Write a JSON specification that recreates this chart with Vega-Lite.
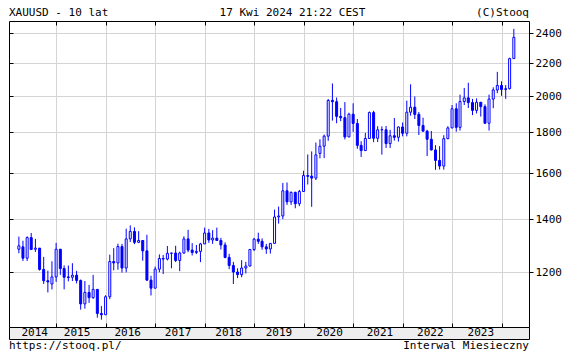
{
  "$schema": "https://vega.github.io/schema/vega-lite/v6.json",
  "padding": {"left": 8, "top": 4, "right": 0, "bottom": 0},
  "spacing": 0,
  "bounds": "flush",
  "config": {
    "view": {"stroke": null},
    "font": "DejaVu Sans Mono",
    "text": {"font": "DejaVu Sans Mono", "fontSize": 11, "color": "#000000"}
  },
  "datasets": {
    "gold": [
      {"d":"2014-04-01","o":1283,"h":1331,"l":1268,"c":1296},
      {"d":"2014-05-01","o":1292,"h":1315,"l":1240,"c":1250},
      {"d":"2014-06-01","o":1250,"h":1332,"l":1240,"c":1327},
      {"d":"2014-07-01","o":1327,"h":1345,"l":1281,"c":1282},
      {"d":"2014-08-01","o":1283,"h":1322,"l":1273,"c":1287},
      {"d":"2014-09-01","o":1287,"h":1288,"l":1206,"c":1210},
      {"d":"2014-10-01","o":1210,"h":1255,"l":1160,"c":1171},
      {"d":"2014-11-01","o":1171,"h":1206,"l":1132,"c":1167},
      {"d":"2014-12-01","o":1160,"h":1239,"l":1142,"c":1184},
      {"d":"2015-01-01","o":1184,"h":1307,"l":1167,"c":1283},
      {"d":"2015-02-01","o":1283,"h":1284,"l":1191,"c":1213},
      {"d":"2015-03-01","o":1213,"h":1224,"l":1142,"c":1183},
      {"d":"2015-04-01","o":1184,"h":1224,"l":1169,"c":1182},
      {"d":"2015-05-01","o":1183,"h":1232,"l":1170,"c":1190},
      {"d":"2015-06-01","o":1190,"h":1205,"l":1162,"c":1172},
      {"d":"2015-07-01","o":1172,"h":1175,"l":1077,"c":1095},
      {"d":"2015-08-01","o":1095,"h":1170,"l":1080,"c":1132},
      {"d":"2015-09-01","o":1132,"h":1157,"l":1098,"c":1115},
      {"d":"2015-10-01","o":1115,"h":1191,"l":1111,"c":1142},
      {"d":"2015-11-01","o":1142,"h":1142,"l":1052,"c":1065},
      {"d":"2015-12-01","o":1065,"h":1088,"l":1046,"c":1061},
      {"d":"2016-01-01","o":1061,"h":1123,"l":1061,"c":1118},
      {"d":"2016-02-01","o":1118,"h":1263,"l":1110,"c":1238},
      {"d":"2016-03-01","o":1238,"h":1287,"l":1207,"c":1233},
      {"d":"2016-04-01","o":1233,"h":1304,"l":1209,"c":1293},
      {"d":"2016-05-01","o":1293,"h":1303,"l":1199,"c":1215},
      {"d":"2016-06-01","o":1215,"h":1362,"l":1200,"c":1322},
      {"d":"2016-07-01","o":1322,"h":1375,"l":1310,"c":1351},
      {"d":"2016-08-01","o":1351,"h":1367,"l":1302,"c":1309},
      {"d":"2016-09-01","o":1309,"h":1352,"l":1306,"c":1316},
      {"d":"2016-10-01","o":1316,"h":1317,"l":1241,"c":1277},
      {"d":"2016-11-01","o":1277,"h":1338,"l":1171,"c":1173},
      {"d":"2016-12-01","o":1173,"h":1188,"l":1122,"c":1146},
      {"d":"2017-01-01","o":1146,"h":1220,"l":1146,"c":1211},
      {"d":"2017-02-01","o":1211,"h":1264,"l":1200,"c":1249},
      {"d":"2017-03-01","o":1249,"h":1262,"l":1194,"c":1247},
      {"d":"2017-04-01","o":1247,"h":1295,"l":1242,"c":1268},
      {"d":"2017-05-01","o":1268,"h":1270,"l":1214,"c":1269},
      {"d":"2017-06-01","o":1269,"h":1296,"l":1236,"c":1242},
      {"d":"2017-07-01","o":1242,"h":1274,"l":1204,"c":1269},
      {"d":"2017-08-01","o":1269,"h":1332,"l":1267,"c":1322},
      {"d":"2017-09-01","o":1322,"h":1357,"l":1272,"c":1280},
      {"d":"2017-10-01","o":1280,"h":1306,"l":1260,"c":1271},
      {"d":"2017-11-01","o":1271,"h":1299,"l":1265,"c":1275},
      {"d":"2017-12-01","o":1275,"h":1307,"l":1236,"c":1303},
      {"d":"2018-01-01","o":1303,"h":1366,"l":1303,"c":1345},
      {"d":"2018-02-01","o":1345,"h":1361,"l":1307,"c":1318},
      {"d":"2018-03-01","o":1318,"h":1356,"l":1303,"c":1325},
      {"d":"2018-04-01","o":1325,"h":1366,"l":1315,"c":1316},
      {"d":"2018-05-01","o":1316,"h":1326,"l":1282,"c":1299},
      {"d":"2018-06-01","o":1299,"h":1309,"l":1250,"c":1253},
      {"d":"2018-07-01","o":1253,"h":1266,"l":1211,"c":1224},
      {"d":"2018-08-01","o":1224,"h":1237,"l":1160,"c":1201},
      {"d":"2018-09-01","o":1201,"h":1214,"l":1180,"c":1192},
      {"d":"2018-10-01","o":1192,"h":1243,"l":1183,"c":1215},
      {"d":"2018-11-01","o":1215,"h":1237,"l":1196,"c":1222},
      {"d":"2018-12-01","o":1222,"h":1284,"l":1221,"c":1282},
      {"d":"2019-01-01","o":1282,"h":1326,"l":1276,"c":1321},
      {"d":"2019-02-01","o":1321,"h":1346,"l":1303,"c":1313},
      {"d":"2019-03-01","o":1313,"h":1324,"l":1281,"c":1292},
      {"d":"2019-04-01","o":1292,"h":1303,"l":1266,"c":1284},
      {"d":"2019-05-01","o":1284,"h":1306,"l":1267,"c":1305},
      {"d":"2019-06-01","o":1305,"h":1439,"l":1305,"c":1409},
      {"d":"2019-07-01","o":1409,"h":1452,"l":1382,"c":1413},
      {"d":"2019-08-01","o":1413,"h":1555,"l":1400,"c":1520},
      {"d":"2019-09-01","o":1520,"h":1557,"l":1459,"c":1472},
      {"d":"2019-10-01","o":1472,"h":1517,"l":1459,"c":1513},
      {"d":"2019-11-01","o":1513,"h":1516,"l":1445,"c":1464},
      {"d":"2019-12-01","o":1464,"h":1524,"l":1454,"c":1517},
      {"d":"2020-01-01","o":1517,"h":1611,"l":1517,"c":1589},
      {"d":"2020-02-01","o":1589,"h":1689,"l":1548,"c":1585},
      {"d":"2020-03-01","o":1586,"h":1704,"l":1451,"c":1577},
      {"d":"2020-04-01","o":1577,"h":1748,"l":1568,"c":1687},
      {"d":"2020-05-01","o":1694,"h":1765,"l":1670,"c":1730},
      {"d":"2020-06-01","o":1730,"h":1789,"l":1671,"c":1781},
      {"d":"2020-07-01","o":1781,"h":1984,"l":1757,"c":1975},
      {"d":"2020-08-01","o":1976,"h":2075,"l":1863,"c":1968},
      {"d":"2020-09-01","o":1968,"h":1992,"l":1849,"c":1886},
      {"d":"2020-10-01","o":1886,"h":1933,"l":1860,"c":1879},
      {"d":"2020-11-01","o":1879,"h":1966,"l":1764,"c":1777},
      {"d":"2020-12-01","o":1777,"h":1906,"l":1775,"c":1898},
      {"d":"2021-01-01","o":1898,"h":1959,"l":1803,"c":1848},
      {"d":"2021-02-01","o":1848,"h":1872,"l":1717,"c":1734},
      {"d":"2021-03-01","o":1734,"h":1755,"l":1677,"c":1708},
      {"d":"2021-04-01","o":1708,"h":1798,"l":1706,"c":1769},
      {"d":"2021-05-01","o":1769,"h":1913,"l":1766,"c":1907},
      {"d":"2021-06-01","o":1907,"h":1917,"l":1750,"c":1770},
      {"d":"2021-07-01","o":1770,"h":1833,"l":1751,"c":1814},
      {"d":"2021-08-01","o":1814,"h":1832,"l":1688,"c":1815},
      {"d":"2021-09-01","o":1814,"h":1834,"l":1721,"c":1743},
      {"d":"2021-10-01","o":1743,"h":1814,"l":1721,"c":1783},
      {"d":"2021-11-01","o":1783,"h":1877,"l":1758,"c":1775},
      {"d":"2021-12-01","o":1775,"h":1831,"l":1753,"c":1829},
      {"d":"2022-01-01","o":1829,"h":1853,"l":1780,"c":1796},
      {"d":"2022-02-01","o":1796,"h":1974,"l":1780,"c":1909},
      {"d":"2022-03-01","o":1909,"h":2070,"l":1890,"c":1937},
      {"d":"2022-04-01","o":1937,"h":1998,"l":1872,"c":1897},
      {"d":"2022-05-01","o":1897,"h":1910,"l":1787,"c":1837},
      {"d":"2022-06-01","o":1837,"h":1879,"l":1805,"c":1807},
      {"d":"2022-07-01","o":1807,"h":1814,"l":1681,"c":1765},
      {"d":"2022-08-01","o":1765,"h":1808,"l":1709,"c":1711},
      {"d":"2022-09-01","o":1711,"h":1735,"l":1615,"c":1660},
      {"d":"2022-10-01","o":1660,"h":1730,"l":1617,"c":1633},
      {"d":"2022-11-01","o":1633,"h":1786,"l":1616,"c":1768},
      {"d":"2022-12-01","o":1768,"h":1833,"l":1765,"c":1824},
      {"d":"2023-01-01","o":1824,"h":1949,"l":1823,"c":1928},
      {"d":"2023-02-01","o":1928,"h":1959,"l":1804,"c":1827},
      {"d":"2023-03-01","o":1827,"h":2009,"l":1810,"c":1969},
      {"d":"2023-04-01","o":1969,"h":2048,"l":1949,"c":1990},
      {"d":"2023-05-01","o":1990,"h":2079,"l":1932,"c":1963},
      {"d":"2023-06-01","o":1963,"h":1984,"l":1893,"c":1919},
      {"d":"2023-07-01","o":1919,"h":1987,"l":1902,"c":1965},
      {"d":"2023-08-01","o":1965,"h":1966,"l":1885,"c":1940},
      {"d":"2023-09-01","o":1940,"h":1953,"l":1846,"c":1849},
      {"d":"2023-10-01","o":1849,"h":2009,"l":1810,"c":1983},
      {"d":"2023-11-01","o":1983,"h":2052,"l":1931,"c":2036},
      {"d":"2023-12-01","o":2036,"h":2146,"l":2017,"c":2063},
      {"d":"2024-01-01","o":2063,"h":2088,"l":2002,"c":2039},
      {"d":"2024-02-01","o":2039,"h":2065,"l":1984,"c":2044},
      {"d":"2024-03-01","o":2044,"h":2236,"l":2039,"c":2230},
      {"d":"2024-04-01","o":2230,"h":2431,"l":2228,"c":2372}
    ],
    "years": [
      {"y":"2014","m":"2014-08-29"},
      {"y":"2015","m":"2015-07-02"},
      {"y":"2016","m":"2016-07-02"},
      {"y":"2017","m":"2017-07-02"},
      {"y":"2018","m":"2018-07-02"},
      {"y":"2019","m":"2019-07-02"},
      {"y":"2020","m":"2020-07-02"},
      {"y":"2021","m":"2021-07-02"},
      {"y":"2022","m":"2022-07-02"},
      {"y":"2023","m":"2023-07-02"}
    ]
  },
  "vconcat": [
    {
      "width": 520,
      "height": 17,
      "data": {"values": [{}]},
      "layer": [
        {"mark": {"type": "text", "text": "XAUUSD - 10 lat", "align": "left", "baseline": "middle"},
         "encoding": {"x": {"datum": 0, "type": "quantitative", "scale": {"domain": [0, 1]}, "axis": null}}},
        {"mark": {"type": "text", "text": "17 Kwi 2024 21:22 CEST", "align": "center", "baseline": "middle"},
         "encoding": {"x": {"datum": 0.545, "type": "quantitative", "axis": null}}},
        {"mark": {"type": "text", "text": "(C)Stooq", "align": "right", "baseline": "middle"},
         "encoding": {"x": {"datum": 1, "type": "quantitative", "axis": null}}}
      ]
    },
    {
      "width": 520,
      "height": 306,
      "data": {"name": "gold"},
      "layer": [
        {
          "mark": {"type": "rule", "color": "#0000ff", "strokeWidth": 1},
          "encoding": {
            "x": {"field": "d", "type": "temporal",
              "scale": {"type": "utc", "domain": [{"year": 2014, "month": 2, "date": 24, "utc": true}, {"year": 2024, "month": 6, "date": 15, "utc": true}]},
              "axis": {"orient": "bottom", "title": null, "labels": false, "tickSize": -4, "tickColor": "#000000", "domainColor": "#000000", "grid": true, "gridColor": "#d4d4d4",
                "values": [{"year": 2015, "month": 1, "date": 1, "utc": true}, {"year": 2016, "month": 1, "date": 1, "utc": true}, {"year": 2017, "month": 1, "date": 1, "utc": true}, {"year": 2018, "month": 1, "date": 1, "utc": true}, {"year": 2019, "month": 1, "date": 1, "utc": true}, {"year": 2020, "month": 1, "date": 1, "utc": true}, {"year": 2021, "month": 1, "date": 1, "utc": true}, {"year": 2022, "month": 1, "date": 1, "utc": true}, {"year": 2023, "month": 1, "date": 1, "utc": true}, {"year": 2024, "month": 1, "date": 1, "utc": true}]}},
            "y": {"field": "l", "type": "quantitative",
              "scale": {"type": "log", "domain": [1024, 2487], "nice": false, "zero": false},
              "axis": {"orient": "right", "title": null, "values": [1200, 1400, 1600, 1800, 2000, 2200, 2400], "format": "d",
                "labelFont": "DejaVu Sans Mono", "labelFontSize": 11, "labelColor": "#000000", "labelPadding": 2,
                "tickSize": 4, "tickColor": "#000000", "domainColor": "#000000", "grid": true, "gridColor": "#d4d4d4", "labelOverlap": false, "labelFlush": false}},
            "y2": {"field": "h"}
          }
        },
        {
          "mark": {"type": "bar", "width": 2, "stroke": "#0000ff", "strokeWidth": 1},
          "encoding": {
            "x": {"field": "d", "type": "temporal",
              "axis": {"orient": "top", "title": null, "labels": false, "tickSize": -4, "tickColor": "#000000", "domainColor": "#000000", "grid": false,
                "values": [{"year": 2015, "month": 1, "date": 1, "utc": true}, {"year": 2016, "month": 1, "date": 1, "utc": true}, {"year": 2017, "month": 1, "date": 1, "utc": true}, {"year": 2018, "month": 1, "date": 1, "utc": true}, {"year": 2019, "month": 1, "date": 1, "utc": true}, {"year": 2020, "month": 1, "date": 1, "utc": true}, {"year": 2021, "month": 1, "date": 1, "utc": true}, {"year": 2022, "month": 1, "date": 1, "utc": true}, {"year": 2023, "month": 1, "date": 1, "utc": true}, {"year": 2024, "month": 1, "date": 1, "utc": true}]}},
            "y": {"field": "o", "type": "quantitative",
              "axis": {"orient": "left", "title": null, "labels": false, "values": [1200, 1400, 1600, 1800, 2000, 2200, 2400], "tickSize": -4, "tickColor": "#000000", "domainColor": "#000000", "grid": false}},
            "y2": {"field": "c"},
            "fill": {"condition": {"test": "datum.c > datum.o", "value": "#ffffff"}, "value": "#0000ff"}
          }
        }
      ],
      "resolve": {"axis": {"x": "independent", "y": "independent"}}
    },
    {
      "width": 520,
      "height": 12,
      "view": {"fill": "#eeeeee", "stroke": "#000000", "strokeWidth": 1},
      "data": {"name": "years"},
      "mark": {"type": "text", "baseline": "middle", "align": "center"},
      "encoding": {
        "x": {"field": "m", "type": "temporal",
          "scale": {"type": "utc", "domain": [{"year": 2014, "month": 2, "date": 24, "utc": true}, {"year": 2024, "month": 6, "date": 15, "utc": true}]},
          "axis": null},
        "text": {"field": "y"}
      }
    },
    {
      "width": 520,
      "height": 13,
      "data": {"values": [{}]},
      "layer": [
        {"mark": {"type": "text", "text": "https://stooq.pl/", "align": "left", "baseline": "middle"},
         "encoding": {"x": {"datum": 0, "type": "quantitative", "scale": {"domain": [0, 1]}, "axis": null}}},
        {"mark": {"type": "text", "text": "Interwal Miesieczny", "align": "right", "baseline": "middle"},
         "encoding": {"x": {"datum": 1, "type": "quantitative", "axis": null}}}
      ]
    }
  ]
}
